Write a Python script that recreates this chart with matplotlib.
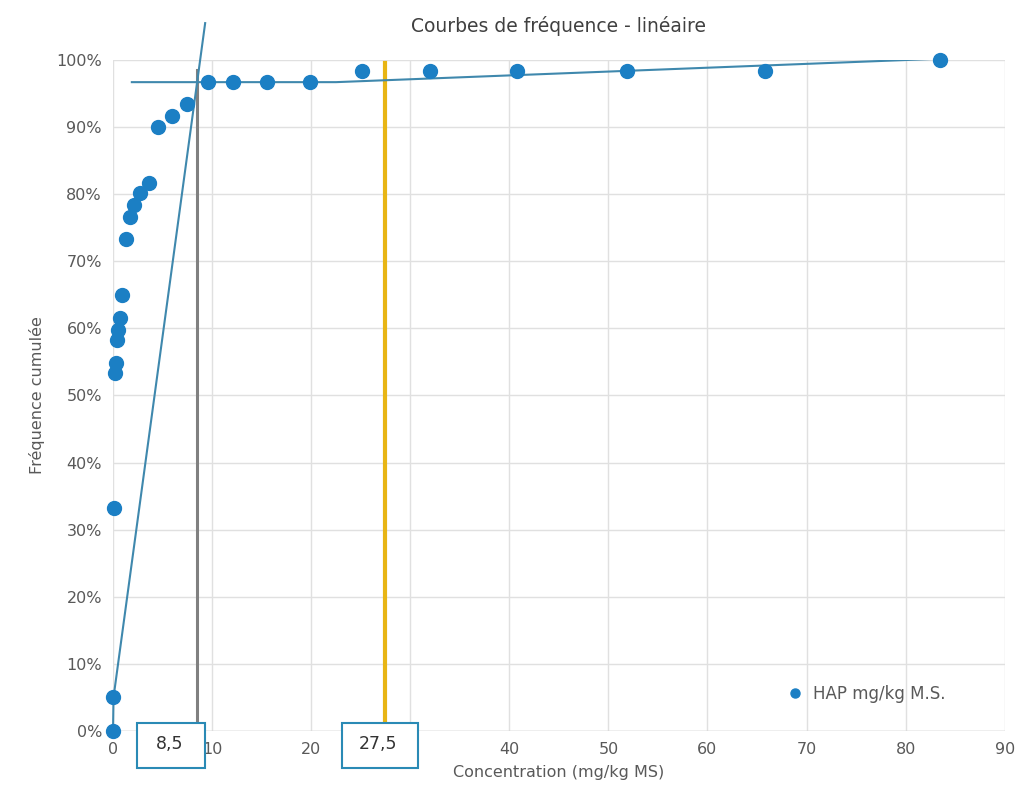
import numpy as np
import matplotlib.pyplot as plt
from matplotlib.patches import Rectangle
from matplotlib.ticker import FuncFormatter

# concentration (mg/kg MS) and cumulative frequency (%)
conc = [0, 0, 0.1, 0.2, 0.3, 0.4, 0.5, 0.7, 0.9, 1.3, 1.7, 2.1, 2.7, 3.6,
        4.5, 6.0, 7.5, 9.6, 12.1, 15.5, 19.9, 25.1, 32.0, 40.8, 51.9, 65.8, 83.5]
freq = [0, 5, 33.2, 53.4, 54.9, 58.3, 59.8, 61.6, 65.0, 73.3, 76.6, 78.4, 80.2, 81.7,
        90.0, 91.7, 93.4, 96.7, 96.7, 96.7, 96.7, 98.4, 98.4, 98.4, 98.4, 98.4, 100]

# hand drawn tangent lines
steep_x = [0, 0.05, 9.3]
steep_y = [0, 5, 105.5]
flat_x = [1.9, 22.5, 83.5]
flat_y = [96.7, 96.7, 100.2]

cut_low = 8.5
cut_high = 27.5

txt = '#595959'
blue = '#1b7fc4'
line_col = '#3f88ad'

fig = plt.figure(figsize=(10.2, 7.98), dpi=100)
ax = fig.add_axes([0.1108, 0.084, 0.8742, 0.8408])

ax.grid(True, color='#e0e0e0', linewidth=1)
ax.set_axisbelow(True)
for s in ax.spines.values():
    s.set_visible(False)
ax.axhline(0, color='#c8c8c8', linewidth=1, zorder=1)

ax.plot(steep_x, steep_y, color=line_col, linewidth=1.5, clip_on=False, zorder=3)
ax.plot(flat_x, flat_y, color=line_col, linewidth=1.5, zorder=3)
ax.plot([cut_low, cut_low], [0, 98.5], color='#808080', linewidth=2.2, zorder=2)
ax.plot([cut_high, cut_high], [1.7, 99.5], color='#e8b514', linewidth=3, zorder=2)

ax.plot(conc, freq, 'o', color=blue, markersize=10, label='HAP mg/kg M.S.',
        clip_on=False, zorder=4)

ax.set_xlim(0, 90)
ax.set_ylim(0, 100)
ax.set_xticks(np.arange(0, 91, 10))
ax.set_yticks(np.arange(0, 101, 10))
ax.yaxis.set_major_formatter(FuncFormatter(lambda v, p: '%d%%' % v))
ax.tick_params(length=0, labelsize=11.5, labelcolor=txt, pad=8)

ax.set_xlabel('Concentration (mg/kg MS)', fontsize=11.5, color=txt, labelpad=6)
ax.set_ylabel('Fréquence cumulée', fontsize=11.5, color=txt, labelpad=8)
ax.set_title('Courbes de fréquence - linéaire', fontsize=13.5, color='#404040', pad=20)

# value boxes under the axis
for x0, x1, label in [(2.45, 9.3, '8,5'), (23.1, 30.8, '27,5')]:
    ax.add_patch(Rectangle((x0, -5.5), x1 - x0, 6.7, facecolor='white',
                           edgecolor='#2a8ab5', linewidth=1.5, clip_on=False, zorder=6))
    ax.text((x0 + x1) / 2 - 0.2, -2.0, label, ha='center', va='center', fontsize=12.5,
            color='#333333', zorder=7, clip_on=False)

ax.legend(loc='lower right', frameon=False, fontsize=12, labelcolor=txt,
          handletextpad=0.05, markerscale=0.65, bbox_to_anchor=(0.95, 0.02))

fig.savefig('out.png', dpi=100)
